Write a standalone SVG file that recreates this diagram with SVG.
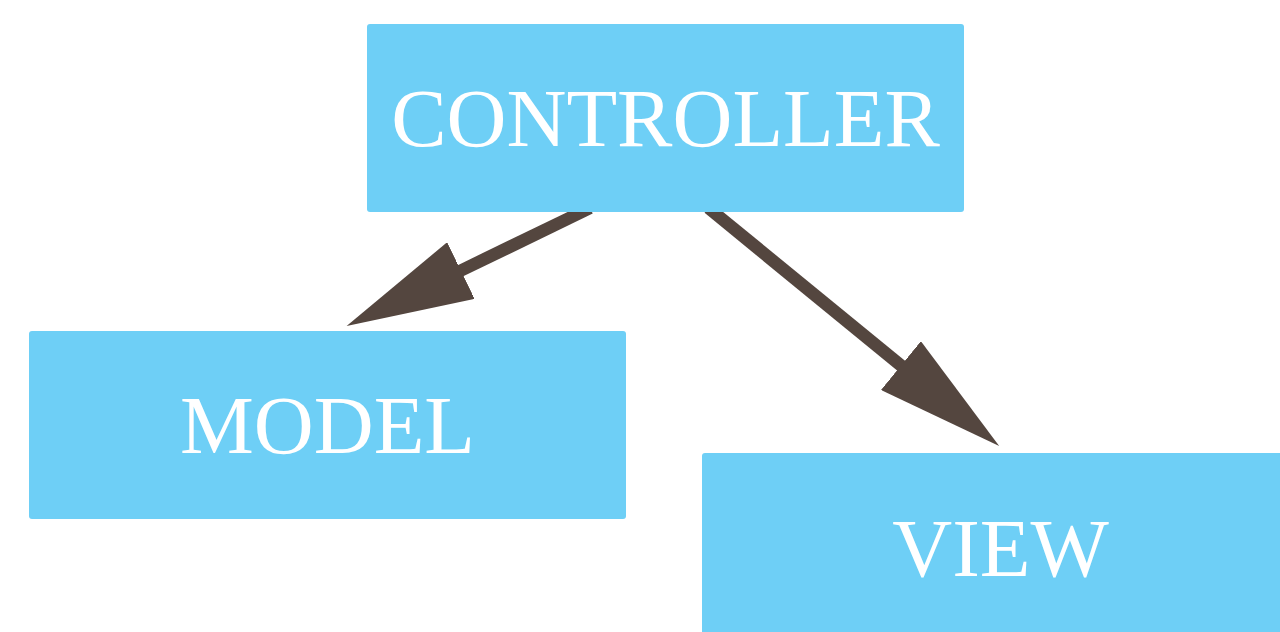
<svg xmlns="http://www.w3.org/2000/svg" width="1280" height="632" viewBox="0 0 1280 632">
  <style>
    .box { fill: #6ecff6; }
    .label { fill: #ffffff; font-family: "Liberation Serif", "Times New Roman", serif; font-size: 83px; text-anchor: middle; }
    .edge { stroke: #54463f; stroke-width: 12.5; fill: none; marker-end: url(#head); }
  </style>
  <defs>
    <marker id="head" viewBox="0 0 127 63" refX="1" refY="31.5" markerWidth="127" markerHeight="63" markerUnits="userSpaceOnUse" orient="auto">
      <path d="M0,0 L127,31.5 L0,63 Z" fill="#54463f"/>
    </marker>
  </defs>
  <rect width="1280" height="632" fill="#ffffff"/>
  <g id="connectors">
    <path class="edge" d="M590,208 L460,271"/>
    <path class="edge" d="M708.5,208 L901.7,366.2"/>
  </g>
  <g id="controller">
    <rect class="box" x="367" y="24" width="597" height="188" rx="3"/>
    <text class="label" x="665.5" y="146">CONTROLLER</text>
  </g>
  <g id="model">
    <rect class="box" x="29" y="331" width="597" height="188" rx="3"/>
    <text class="label" x="327.5" y="453">MODEL</text>
  </g>
  <g id="view">
    <rect class="box" x="702" y="453" width="597" height="188" rx="3"/>
    <text class="label" x="1000.5" y="576">VIEW</text>
  </g>
</svg>
